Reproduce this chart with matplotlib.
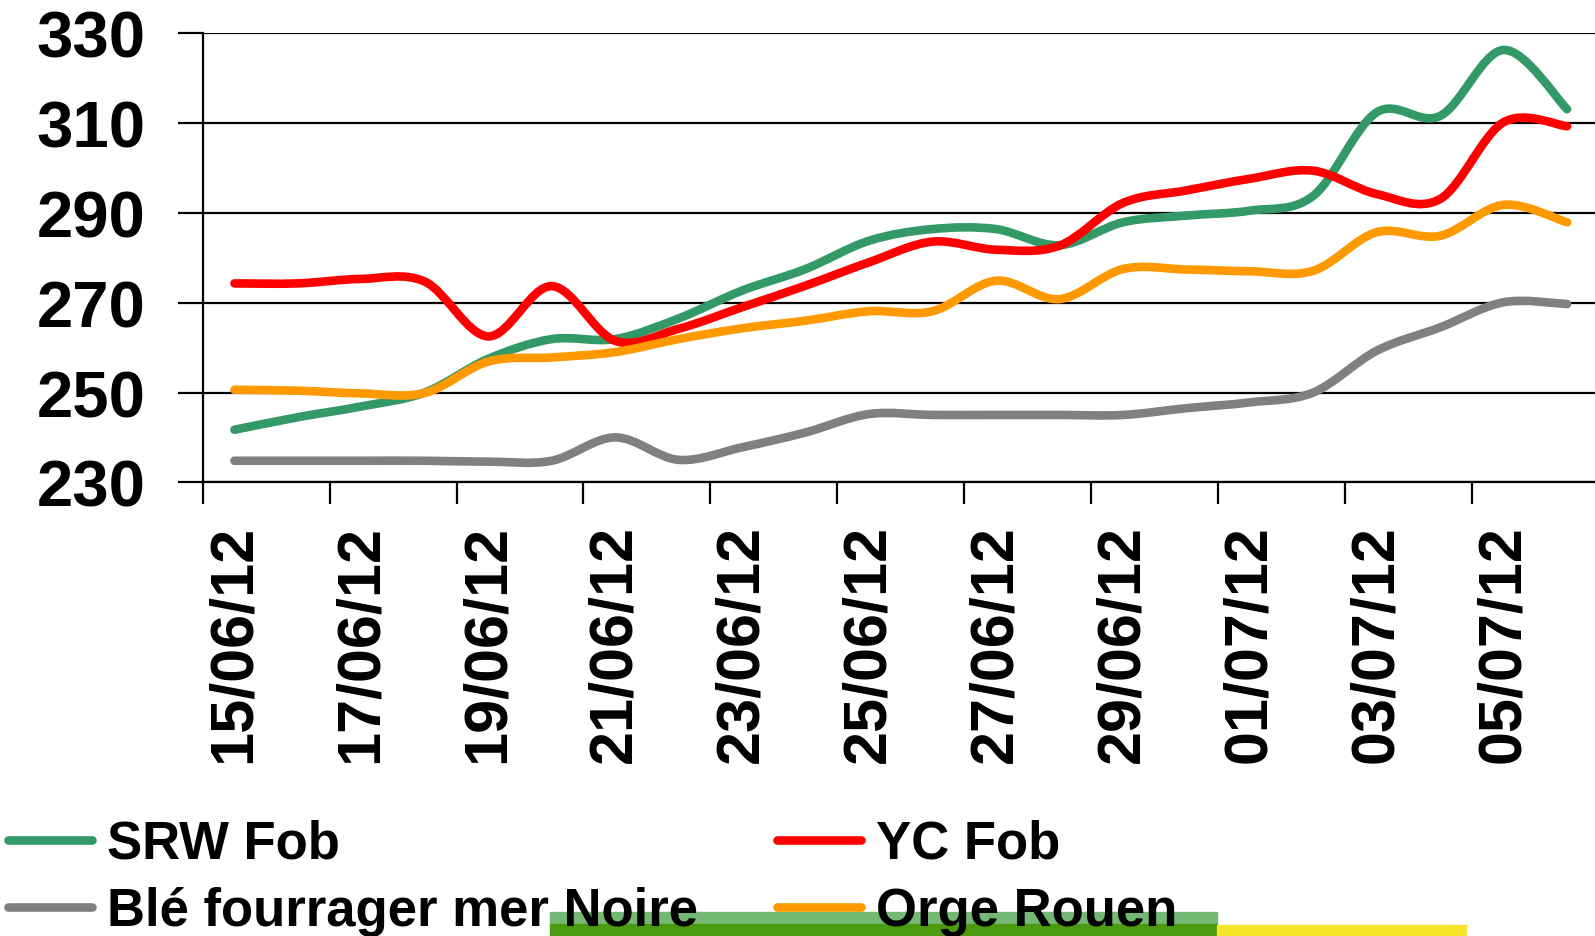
import numpy as np
import pandas as pd
import matplotlib
matplotlib.use("Agg")
import matplotlib.pyplot as plt
import matplotlib.dates as mdates
from matplotlib.path import Path
from matplotlib.patches import PathPatch, Rectangle
from matplotlib.lines import Line2D

plt.rcParams.update({
    'font.family': ['Liberation Sans', 'DejaVu Sans'],
    'font.weight': 'bold',
})

# données (lecture du graphique)
dates = pd.date_range('2012-06-15', '2012-07-06', freq='D')
srw = [241.7, 244.5, 246.9, 250.0, 257.5, 261.9, 261.9, 266.5, 272.7, 277.5, 283.8,
       286.4, 286.4, 282.8, 287.9, 289.4, 290.5, 293.8, 312.4, 311.6, 326.3, 313.1]
yc = [274.3, 274.3, 275.3, 274.7, 262.5, 273.7, 261.5, 264.2, 269.0, 273.8, 279.0,
      283.6, 281.8, 282.7, 292.2, 295.0, 297.6, 299.4, 294.2, 293.1, 310.2, 309.3]
ble = [234.8, 234.8, 234.8, 234.8, 234.6, 234.8, 240.0, 235.0, 237.8, 241.1, 245.2,
       245.0, 245.0, 245.0, 245.0, 246.5, 247.8, 250.0, 259.3, 264.5, 270.1, 269.7]
orge = [250.6, 250.4, 249.8, 249.9, 256.9, 257.8, 259.0, 261.9, 264.3, 266.0, 268.1,
        268.1, 274.9, 270.8, 277.5, 277.4, 277.0, 277.1, 285.7, 284.9, 291.8, 287.9]

series = [
    ("SRW Fob", srw, '#339966'),
    ("YC Fob", yc, '#FF0000'),
    ("Blé fourrager mer Noire", ble, '#808080'),
    ("Orge Rouen", orge, '#FF9900'),
]
LW = 6.2


def smooth_path(x, y):
    # courbe lissée façon Excel (Bézier type Catmull-Rom)
    p = np.column_stack([x, y])
    pp = np.vstack([p[0], p, p[-1]])
    verts = [p[0]]
    codes = [Path.MOVETO]
    for i in range(len(p) - 1):
        p0, p1, p2, p3 = pp[i], pp[i + 1], pp[i + 2], pp[i + 3]
        verts += [p1 + (p2 - p0) / 6, p2 - (p3 - p1) / 6, p2]
        codes += [Path.CURVE4] * 3
    return Path(verts, codes)


fig = plt.figure(figsize=(15.95, 9.37), dpi=100)
ax = fig.add_axes([0.1271, 0.4842, 0.8729, 0.4792])

x = mdates.date2num(dates)
for name, vals, col in series:
    ax.add_patch(PathPatch(smooth_path(x, vals), fill=False, edgecolor=col,
                           linewidth=LW, capstyle='round', joinstyle='round', zorder=3))

ax.set_ylim(230, 330)
ax.set_yticks(np.arange(230, 331, 20))
ax.set_xlim(x[0] - 0.5, x[0] + 21.44)

# graduations aux bords, étiquettes au centre des jours
ax.set_xticks(x[::2] - 0.5)
ax.set_xticklabels([])
ax.set_xticks(x[::2], minor=True)
ax.set_xticklabels([d.strftime('%d/%m/%y') for d in dates[::2]], minor=True,
                   rotation=90, fontsize=44, fontweight='bold')
ax.tick_params(axis='x', which='major', direction='out', length=16, width=1.6)
ax.tick_params(axis='x', which='minor', length=0, pad=30)
ax.tick_params(axis='y', direction='out', length=18, width=1.6, pad=23,
               labelsize=47)
for lbl in ax.get_yticklabels():
    lbl.set_fontweight('bold')

ax.grid(axis='y', color='black', lw=1.6)
ax.set_axisbelow(True)
for s in ['top', 'right']:
    ax.spines[s].set_visible(False)
ax.spines['left'].set_linewidth(1.6)
ax.spines['bottom'].set_linewidth(1.6)
ax.spines['left'].set_bounds(230, 330)

# bandeau de fond en bas
fig.add_artist(Rectangle((550 / 1595, 12 / 937), 667 / 1595, 12 / 937,
                         transform=fig.transFigure, color='#74b874', zorder=0))
fig.add_artist(Rectangle((550 / 1595, 0), 667 / 1595, 12 / 937,
                         transform=fig.transFigure, color='#4c9a10', zorder=0))
fig.add_artist(Rectangle((1217 / 1595, 0), 249 / 1595, 11 / 937,
                         transform=fig.transFigure, color='#f5e52a', zorder=0))

# légende : ordre colonne par colonne
order = [0, 2, 1, 3]
handles = [Line2D([], [], color=series[i][2], lw=LW, solid_capstyle='round') for i in order]
labels = [series[i][0] for i in order]
fig.legend(handles, labels, ncol=2, loc='upper left',
           bbox_to_anchor=(8 / 1595, 1 - 820 / 937), frameon=False,
           prop={'size': 38, 'weight': 'bold'}, handlelength=1.6,
           handletextpad=0.27, columnspacing=1.5, labelspacing=0.33,
           borderpad=0, borderaxespad=0)

fig.savefig("out.png", dpi=100)
